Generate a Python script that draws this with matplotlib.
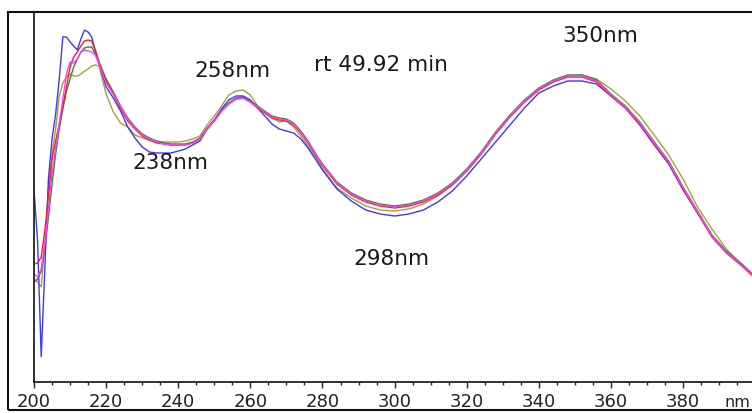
import matplotlib
matplotlib.use("Agg")
import matplotlib.pyplot as plt
from matplotlib.patches import Rectangle
from matplotlib.ticker import MultipleLocator

# Wavelength grid (nm) shared by all spectra
wavelength = [200, 201, 202, 203, 204, 205, 206, 207, 208, 209, 210, 211, 212, 213,
              214, 215, 216, 217, 218, 220, 222, 224, 226, 228, 230, 232, 234, 236,
              238, 240, 242, 244, 246, 248, 250, 252, 254, 256, 258, 260, 262, 264,
              266, 268, 270, 272, 274, 276, 278, 280, 284, 288, 292, 296, 300, 304,
              308, 312, 316, 320, 324, 328, 332, 336, 340, 344, 348, 352, 356, 360,
              364, 368, 372, 376, 380, 384, 388, 392, 396, 399]

# Absorbance (arbitrary units) of the overlaid spectra
abs_blue = [193, 140, 25, 113, 203, 243, 268, 303, 345, 345, 340, 336, 332, 343,
            352, 350, 345, 331, 319, 295, 284, 271, 255, 244, 235, 230, 229, 229,
            229, 231, 233, 237, 241, 253, 262, 273, 282, 286, 286, 282, 274, 266,
            258, 253, 251, 249, 243, 234, 223, 212, 193, 181, 172, 168, 166, 168,
            172, 180, 191, 206, 223, 240, 257, 274, 289, 296, 301, 301, 298, 286,
            274, 257, 237, 218, 192, 169, 146, 130, 118, 108]

abs_red = [118, 119, 125, 151, 185, 223, 241, 258, 276, 295, 315, 325, 330, 336,
           341, 342, 341, 332, 320, 301, 288, 273, 261, 253, 246, 242, 239, 238,
           237, 237, 237, 239, 243, 253, 261, 271, 278, 283, 284, 280, 274, 269,
           264, 262, 261, 257, 249, 239, 227, 216, 198, 187, 180, 176, 174, 176,
           180, 187, 197, 211, 228, 248, 265, 280, 292, 300, 305, 305, 300, 286,
           274, 258, 238, 219, 193, 169, 145, 129, 117, 107]

abs_magenta = [108, 105, 113, 138, 173, 208, 233, 258, 283, 308, 320, 319, 323, 330,
               332, 331, 330, 327, 318, 299, 288, 275, 263, 254, 247, 243, 240, 238,
               237, 237, 237, 239, 243, 253, 261, 271, 278, 283, 284, 280, 275, 270,
               265, 263, 262, 258, 250, 240, 228, 217, 199, 188, 181, 177, 175, 177,
               181, 188, 198, 212, 229, 249, 266, 281, 293, 301, 306, 306, 301, 287,
               275, 259, 239, 220, 194, 170, 146, 130, 118, 108]

abs_green = [100, 103, 111, 133, 165, 198, 228, 253, 273, 291, 303, 315, 323, 330,
             334, 335, 335, 328, 320, 303, 290, 276, 264, 255, 248, 244, 241, 239,
             238, 238, 238, 240, 244, 254, 262, 272, 279, 284, 285, 281, 276, 271,
             266, 264, 263, 259, 251, 241, 229, 218, 200, 189, 182, 178, 176, 178,
             182, 189, 199, 213, 230, 250, 267, 282, 294, 302, 307, 307, 302, 288,
             276, 260, 240, 221, 195, 171, 147, 131, 119, 109]

abs_olive = [103, 100, 95, 138, 193, 228, 253, 286, 299, 305, 308, 306, 306, 308,
             311, 313, 316, 317, 316, 288, 270, 259, 255, 247, 244, 242, 241, 240,
             240, 240, 241, 243, 246, 257, 266, 276, 287, 291, 292, 287, 276, 269,
             264, 260, 261, 255, 246, 236, 225, 213, 194, 184, 176, 172, 171, 173,
             178, 186, 197, 211, 228, 248, 266, 281, 293, 301, 306, 307, 303, 293,
             281, 266, 247, 227, 203, 175, 153, 133, 118, 108]

# Peak / valley annotations and retention time
annotations = ["258nm", "rt 49.92 min", "238nm", "350nm", "298nm"]
axis_unit = "nm"
x_ticks = [200, 220, 240, 260, 280, 300, 320, 340, 360, 380]

W, H = 752, 414
fig = plt.figure(figsize=(W / 100, H / 100), dpi=100)
fig.patch.set_facecolor("white")

# Plot area in pixel terms
left_px, right_px, top_px, bottom_px = 34, 752, 13, 383
ax = fig.add_axes([left_px / W, (H - bottom_px) / H,
                   (right_px - left_px) / W, (bottom_px - top_px) / H])

series = [
    (abs_olive, "#a3a33a"),
    (abs_green, "#2e8b2e"),
    (abs_blue, "#3a3aff"),
    (abs_red, "#ff1a1a"),
    (abs_magenta, "#ff3cff"),
]
for values, color in series:
    ax.plot(wavelength, values, color=color, lw=1.0, solid_joinstyle="miter")

ax.set_xlim(200, 200 + (right_px - left_px) / 3.606)
ax.set_ylim(0, bottom_px - top_px)

for side in ("top", "right"):
    ax.spines[side].set_visible(False)
for side in ("left", "bottom"):
    ax.spines[side].set_linewidth(1.3)
    ax.spines[side].set_color("#222222")

ax.set_yticks([])
ax.set_xticks(x_ticks)
ax.xaxis.set_minor_locator(MultipleLocator(5))
ax.tick_params(axis="x", which="major", direction="out", length=4, width=1.0,
               pad=3, labelsize=13, colors="#222222")
ax.tick_params(axis="x", which="minor", direction="out", length=2.5, width=1.0,
               colors="#222222")

text_kw = dict(fontsize=15.5, color="#1a1a1a", ha="center", va="center",
               family="DejaVu Sans")
positions = [(254.9, 312), (296.2, 318), (237.7, 220), (357.0, 347), (299.0, 124)]
for label, (x, y) in zip(annotations, positions):
    ax.text(x, y, label, **text_kw)

fig.text(737 / W, (H - 403) / H, axis_unit, fontsize=11.5, color="#222222",
         ha="center", va="center")

# Outer frame around the whole plot
fig.patches.append(Rectangle((8 / W, 3 / H), 1.2, (411 - 13) / H,
                             transform=fig.transFigure, fill=False,
                             lw=1.5, edgecolor="#111111"))

fig.savefig("out.png", dpi=100)
